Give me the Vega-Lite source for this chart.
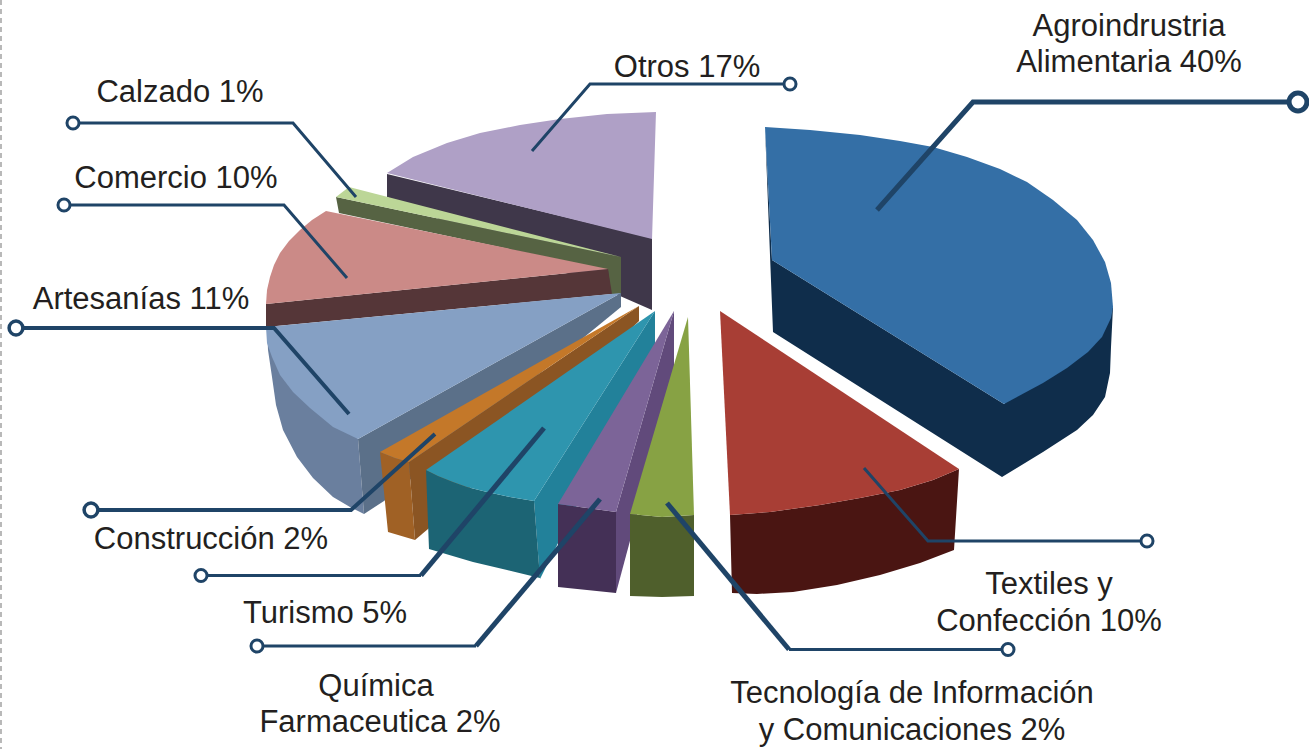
{"$schema":"https://vega.github.io/schema/vega-lite/v6.json","width":1309,"height":749,"padding":0,"autosize":{"type":"none"},"background":"white","config":{"view":{"stroke":null}},
"datasets":{
"faces":[
{"f":"Otros lado","v":1,"x":387,"y":174},{"f":"Otros lado","v":2,"x":652,"y":238},{"f":"Otros lado","v":3,"x":652,"y":310},{"f":"Otros lado","v":4,"x":620,"y":296},{"f":"Otros lado","v":5,"x":387,"y":197},
{"f":"Otros cara","v":1,"x":387,"y":173},{"f":"Otros cara","v":2,"x":413,"y":157},{"f":"Otros cara","v":3,"x":447,"y":143},{"f":"Otros cara","v":4,"x":480,"y":133},{"f":"Otros cara","v":5,"x":520,"y":125},{"f":"Otros cara","v":6,"x":560,"y":119},{"f":"Otros cara","v":7,"x":607,"y":114},{"f":"Otros cara","v":8,"x":656,"y":112},{"f":"Otros cara","v":9,"x":652,"y":239},
{"f":"Calzado lado","v":1,"x":336,"y":197},{"f":"Calzado lado","v":2,"x":621,"y":257},{"f":"Calzado lado","v":3,"x":621,"y":294},{"f":"Calzado lado","v":4,"x":611,"y":294},{"f":"Calzado lado","v":5,"x":608,"y":270},{"f":"Calzado lado","v":6,"x":339,"y":213},
{"f":"Calzado cara","v":1,"x":336,"y":197},{"f":"Calzado cara","v":2,"x":349,"y":187},{"f":"Calzado cara","v":3,"x":621,"y":257},
{"f":"Comercio lado","v":1,"x":266,"y":304},{"f":"Comercio lado","v":2,"x":608,"y":269},{"f":"Comercio lado","v":3,"x":612,"y":294},{"f":"Comercio lado","v":4,"x":266,"y":327},
{"f":"Comercio cara","v":1,"x":326,"y":211},{"f":"Comercio cara","v":2,"x":608,"y":269},{"f":"Comercio cara","v":3,"x":266,"y":304},{"f":"Comercio cara","v":4,"x":267,"y":290},{"f":"Comercio cara","v":5,"x":270,"y":277},{"f":"Comercio cara","v":6,"x":274,"y":265},{"f":"Comercio cara","v":7,"x":280,"y":253},{"f":"Comercio cara","v":8,"x":289,"y":241},{"f":"Comercio cara","v":9,"x":300,"y":230},{"f":"Comercio cara","v":10,"x":312,"y":220},
{"f":"Artesanías frente","v":1,"x":267,"y":327},{"f":"Artesanías frente","v":2,"x":268,"y":350},{"f":"Artesanías frente","v":3,"x":272,"y":377},{"f":"Artesanías frente","v":4,"x":276,"y":405},{"f":"Artesanías frente","v":5,"x":283,"y":430},{"f":"Artesanías frente","v":6,"x":297,"y":457},{"f":"Artesanías frente","v":7,"x":313,"y":478},{"f":"Artesanías frente","v":8,"x":333,"y":497},{"f":"Artesanías frente","v":9,"x":350,"y":507},{"f":"Artesanías frente","v":10,"x":364,"y":514},{"f":"Artesanías frente","v":11,"x":358,"y":439},
{"f":"Artesanías lado","v":1,"x":358,"y":439},{"f":"Artesanías lado","v":2,"x":621,"y":293},{"f":"Artesanías lado","v":3,"x":621,"y":307},{"f":"Artesanías lado","v":4,"x":384,"y":501},{"f":"Artesanías lado","v":5,"x":364,"y":514},
{"f":"Artesanías cara","v":1,"x":266,"y":327},{"f":"Artesanías cara","v":2,"x":621,"y":293},{"f":"Artesanías cara","v":3,"x":358,"y":439},{"f":"Artesanías cara","v":4,"x":333,"y":427},{"f":"Artesanías cara","v":5,"x":310,"y":408},{"f":"Artesanías cara","v":6,"x":293,"y":392},{"f":"Artesanías cara","v":7,"x":280,"y":375},{"f":"Artesanías cara","v":8,"x":272,"y":357},{"f":"Artesanías cara","v":9,"x":267,"y":343},
{"f":"Construcción frente","v":1,"x":380,"y":452},{"f":"Construcción frente","v":2,"x":388,"y":532},{"f":"Construcción frente","v":3,"x":415,"y":540},{"f":"Construcción frente","v":4,"x":409,"y":462},{"f":"Construcción frente","v":5,"x":395,"y":458},
{"f":"Construcción lado","v":1,"x":409,"y":462},{"f":"Construcción lado","v":2,"x":639,"y":306},{"f":"Construcción lado","v":3,"x":639,"y":321},{"f":"Construcción lado","v":4,"x":428,"y":529},{"f":"Construcción lado","v":5,"x":415,"y":540},
{"f":"Construcción cara","v":1,"x":380,"y":452},{"f":"Construcción cara","v":2,"x":639,"y":306},{"f":"Construcción cara","v":3,"x":409,"y":462},{"f":"Construcción cara","v":4,"x":395,"y":458},
{"f":"Turismo lado","v":1,"x":534,"y":501},{"f":"Turismo lado","v":2,"x":655,"y":311},{"f":"Turismo lado","v":3,"x":655,"y":350},{"f":"Turismo lado","v":4,"x":540,"y":579},
{"f":"Turismo frente","v":1,"x":426,"y":470},{"f":"Turismo frente","v":2,"x":438,"y":476},{"f":"Turismo frente","v":3,"x":453,"y":482},{"f":"Turismo frente","v":4,"x":467,"y":487},{"f":"Turismo frente","v":5,"x":487,"y":492},{"f":"Turismo frente","v":6,"x":510,"y":497},{"f":"Turismo frente","v":7,"x":534,"y":501},{"f":"Turismo frente","v":8,"x":540,"y":578},{"f":"Turismo frente","v":9,"x":507,"y":570},{"f":"Turismo frente","v":10,"x":473,"y":562},{"f":"Turismo frente","v":11,"x":429,"y":549},
{"f":"Turismo cara","v":1,"x":426,"y":470},{"f":"Turismo cara","v":2,"x":655,"y":311},{"f":"Turismo cara","v":3,"x":534,"y":501},{"f":"Turismo cara","v":4,"x":510,"y":497},{"f":"Turismo cara","v":5,"x":487,"y":492},{"f":"Turismo cara","v":6,"x":467,"y":487},{"f":"Turismo cara","v":7,"x":453,"y":482},{"f":"Turismo cara","v":8,"x":438,"y":476},
{"f":"Química lado","v":1,"x":616,"y":512},{"f":"Química lado","v":2,"x":674,"y":311},{"f":"Química lado","v":3,"x":674,"y":377},{"f":"Química lado","v":4,"x":616,"y":593},
{"f":"Química frente","v":1,"x":558,"y":504},{"f":"Química frente","v":2,"x":587,"y":508},{"f":"Química frente","v":3,"x":616,"y":512},{"f":"Química frente","v":4,"x":616,"y":593},{"f":"Química frente","v":5,"x":558,"y":587},
{"f":"Química cara","v":1,"x":558,"y":504},{"f":"Química cara","v":2,"x":674,"y":311},{"f":"Química cara","v":3,"x":616,"y":512},{"f":"Química cara","v":4,"x":587,"y":508},
{"f":"Tecnología frente","v":1,"x":630,"y":514},{"f":"Tecnología frente","v":2,"x":662,"y":517},{"f":"Tecnología frente","v":3,"x":694,"y":515},{"f":"Tecnología frente","v":4,"x":694,"y":596},{"f":"Tecnología frente","v":5,"x":662,"y":597},{"f":"Tecnología frente","v":6,"x":630,"y":596},
{"f":"Tecnología cara","v":1,"x":688,"y":317},{"f":"Tecnología cara","v":2,"x":694,"y":515},{"f":"Tecnología cara","v":3,"x":662,"y":517},{"f":"Tecnología cara","v":4,"x":630,"y":514},
{"f":"Textiles frente","v":1,"x":730,"y":515},{"f":"Textiles frente","v":2,"x":770,"y":512},{"f":"Textiles frente","v":3,"x":820,"y":505},{"f":"Textiles frente","v":4,"x":860,"y":498},{"f":"Textiles frente","v":5,"x":900,"y":490},{"f":"Textiles frente","v":6,"x":933,"y":480},{"f":"Textiles frente","v":7,"x":959,"y":469},{"f":"Textiles frente","v":8,"x":954,"y":550},{"f":"Textiles frente","v":9,"x":920,"y":563},{"f":"Textiles frente","v":10,"x":880,"y":575},{"f":"Textiles frente","v":11,"x":837,"y":585},{"f":"Textiles frente","v":12,"x":793,"y":592},{"f":"Textiles frente","v":13,"x":757,"y":594},{"f":"Textiles frente","v":14,"x":732,"y":593},
{"f":"Textiles cara","v":1,"x":720,"y":311},{"f":"Textiles cara","v":2,"x":959,"y":469},{"f":"Textiles cara","v":3,"x":933,"y":480},{"f":"Textiles cara","v":4,"x":900,"y":490},{"f":"Textiles cara","v":5,"x":860,"y":498},{"f":"Textiles cara","v":6,"x":820,"y":505},{"f":"Textiles cara","v":7,"x":770,"y":512},{"f":"Textiles cara","v":8,"x":730,"y":515},
{"f":"Agro lado","v":1,"x":765,"y":127},{"f":"Agro lado","v":2,"x":773,"y":332},{"f":"Agro lado","v":3,"x":1002,"y":477},{"f":"Agro lado","v":4,"x":1043,"y":452},{"f":"Agro lado","v":5,"x":1077,"y":430},{"f":"Agro lado","v":6,"x":1093,"y":415},{"f":"Agro lado","v":7,"x":1105,"y":397},{"f":"Agro lado","v":8,"x":1110,"y":373},{"f":"Agro lado","v":9,"x":1111,"y":347},{"f":"Agro lado","v":10,"x":1113,"y":307},{"f":"Agro lado","v":11,"x":1004,"y":404},{"f":"Agro lado","v":12,"x":772,"y":260},
{"f":"Agro cara","v":1,"x":765,"y":127},{"f":"Agro cara","v":2,"x":810,"y":130},{"f":"Agro cara","v":3,"x":860,"y":135},{"f":"Agro cara","v":4,"x":900,"y":141},{"f":"Agro cara","v":5,"x":933,"y":147},{"f":"Agro cara","v":6,"x":967,"y":157},{"f":"Agro cara","v":7,"x":1000,"y":169},{"f":"Agro cara","v":8,"x":1027,"y":182},{"f":"Agro cara","v":9,"x":1053,"y":200},{"f":"Agro cara","v":10,"x":1077,"y":220},{"f":"Agro cara","v":11,"x":1093,"y":240},{"f":"Agro cara","v":12,"x":1105,"y":262},{"f":"Agro cara","v":13,"x":1111,"y":283},{"f":"Agro cara","v":14,"x":1113,"y":307},{"f":"Agro cara","v":15,"x":1111,"y":318},{"f":"Agro cara","v":16,"x":1102,"y":337},{"f":"Agro cara","v":17,"x":1088,"y":352},{"f":"Agro cara","v":18,"x":1067,"y":368},{"f":"Agro cara","v":19,"x":1043,"y":383},{"f":"Agro cara","v":20,"x":1004,"y":404},{"f":"Agro cara","v":21,"x":772,"y":260}
],
"leaders":[
{"id":"Otros","w":"w3","v":1,"x":790,"y":84},{"id":"Otros","w":"w3","v":2,"x":590,"y":84},{"id":"Otros","w":"w3","v":3,"x":532,"y":151},
{"id":"Agro","w":"w5","v":1,"x":1298,"y":102},{"id":"Agro","w":"w5","v":2,"x":973,"y":102},{"id":"Agro","w":"w5","v":3,"x":877,"y":210},
{"id":"Calzado","w":"w3","v":1,"x":73,"y":123},{"id":"Calzado","w":"w3","v":2,"x":293,"y":123},{"id":"Calzado","w":"w3","v":3,"x":356,"y":197},
{"id":"Comercio","w":"w3","v":1,"x":64,"y":205},{"id":"Comercio","w":"w3","v":2,"x":284,"y":205},{"id":"Comercio","w":"w3","v":3,"x":347,"y":278},
{"id":"Artesanías","w":"w4","v":1,"x":16,"y":328},{"id":"Artesanías","w":"w4","v":2,"x":274,"y":328},{"id":"Artesanías","w":"w4","v":3,"x":349,"y":414},
{"id":"Construcción","w":"w4","v":1,"x":91,"y":510},{"id":"Construcción","w":"w4","v":2,"x":351,"y":510},{"id":"Construcción","w":"w4","v":3,"x":435,"y":434},
{"id":"Turismo h","w":"w3","v":1,"x":201,"y":575.5},{"id":"Turismo h","w":"w3","v":2,"x":421,"y":575.5},
{"id":"Turismo d","w":"w5","v":1,"x":421,"y":575.5},{"id":"Turismo d","w":"w5","v":2,"x":544,"y":428},
{"id":"Química h","w":"w3","v":1,"x":257,"y":646},{"id":"Química h","w":"w3","v":2,"x":476,"y":646},
{"id":"Química d","w":"w5","v":1,"x":476,"y":646},{"id":"Química d","w":"w5","v":2,"x":600,"y":499},
{"id":"Tecnología h","w":"w3","v":1,"x":1008,"y":649.5},{"id":"Tecnología h","w":"w3","v":2,"x":789,"y":649.5},
{"id":"Tecnología d","w":"w5","v":1,"x":789,"y":649.5},{"id":"Tecnología d","w":"w5","v":2,"x":667,"y":503},
{"id":"Textiles","w":"w3","v":1,"x":1147,"y":541},{"id":"Textiles","w":"w3","v":2,"x":928,"y":541},{"id":"Textiles","w":"w3","v":3,"x":864,"y":468}
],
"tips":[
{"x":790,"y":84,"w":"w3"},{"x":1298,"y":102,"w":"w5"},{"x":73,"y":123,"w":"w3"},{"x":64,"y":205,"w":"w3"},{"x":16,"y":328,"w":"w4"},{"x":91,"y":510,"w":"w4"},{"x":201,"y":575.5,"w":"w3"},{"x":257,"y":646,"w":"w3"},{"x":1008,"y":649.5,"w":"w3"},{"x":1147,"y":541,"w":"w3"}
],
"labels":[
{"text":"Agroindrustria","x":1129,"y":27},{"text":"Alimentaria 40%","x":1129,"y":63},{"text":"Otros 17%","x":687,"y":68},{"text":"Calzado 1%","x":180,"y":93},{"text":"Comercio 10%","x":176,"y":179},{"text":"Artesanías 11%","x":141,"y":300},{"text":"Construcción 2%","x":211,"y":540},{"text":"Turismo 5%","x":325,"y":614},{"text":"Química","x":376,"y":687},{"text":"Farmaceutica 2%","x":380,"y":723},{"text":"Tecnología de Información","x":912,"y":694},{"text":"y Comunicaciones 2%","x":912,"y":731},{"text":"Textiles y","x":1049,"y":585},{"text":"Confección 10%","x":1049,"y":622}
]},
"encoding":{
"x":{"field":"x","type":"quantitative","scale":{"domain":[0,1309],"nice":false,"zero":false},"axis":null},
"y":{"field":"y","type":"quantitative","scale":{"domain":[749,0],"nice":false,"zero":false},"axis":null}
},
"layer":[
{"data":{"values":[{"x":1}]},"mark":{"type":"rule","color":"#8a8a8a","strokeDash":[5,4],"strokeWidth":1.2},"encoding":{"y":null}},
{"data":{"name":"faces"},"mark":{"type":"line","filled":true,"interpolate":"linear","strokeWidth":0.5},"encoding":{
"detail":{"field":"f"},"order":{"field":"v","type":"quantitative"},
"color":{"field":"f","type":"nominal","legend":null,"scale":{"domain":["Otros lado","Otros cara","Calzado lado","Calzado cara","Comercio lado","Comercio cara","Artesanías frente","Artesanías lado","Artesanías cara","Construcción frente","Construcción lado","Construcción cara","Turismo lado","Turismo frente","Turismo cara","Química lado","Química frente","Química cara","Tecnología frente","Tecnología cara","Textiles frente","Textiles cara","Agro lado","Agro cara"],"range":["#3F374A","#AFA0C6","#566343","#BCD697","#553638","#CB8A87","#6A7F9E","#5B7089","#85A0C4","#A06125","#8B5523","#C47829","#22819A","#1C6474","#2E95AE","#614A7B","#443056","#7C6498","#4F5F2C","#87A244","#4A1512","#A83E35","#0F2D4B","#346FA6"]}}}},
{"data":{"name":"leaders"},"transform":[{"filter":{"field":"w","equal":"w3"}}],"mark":{"type":"line","color":"#1F4467","strokeJoin":"miter","strokeWidth":3},"encoding":{"detail":{"field":"id"},"order":{"field":"v","type":"quantitative"}}},
{"data":{"name":"leaders"},"transform":[{"filter":{"field":"w","equal":"w4"}}],"mark":{"type":"line","color":"#1F4467","strokeJoin":"miter","strokeWidth":4},"encoding":{"detail":{"field":"id"},"order":{"field":"v","type":"quantitative"}}},
{"data":{"name":"leaders"},"transform":[{"filter":{"field":"w","equal":"w5"}}],"mark":{"type":"line","color":"#1F4467","strokeJoin":"miter","strokeWidth":5},"encoding":{"detail":{"field":"id"},"order":{"field":"v","type":"quantitative"}}},
{"data":{"name":"tips"},"transform":[{"filter":{"field":"w","equal":"w3"}}],"mark":{"type":"point","shape":"circle","fill":"white","fillOpacity":1,"opacity":1,"stroke":"#1F4467","strokeWidth":3,"size":145}},
{"data":{"name":"tips"},"transform":[{"filter":{"field":"w","equal":"w4"}}],"mark":{"type":"point","shape":"circle","fill":"white","fillOpacity":1,"opacity":1,"stroke":"#1F4467","strokeWidth":3.5,"size":190}},
{"data":{"name":"tips"},"transform":[{"filter":{"field":"w","equal":"w5"}}],"mark":{"type":"point","shape":"circle","fill":"white","fillOpacity":1,"opacity":1,"stroke":"#1F4467","strokeWidth":5,"size":320}},
{"data":{"name":"labels"},"mark":{"type":"text","font":"Liberation Sans","fontSize":31,"color":"#231F20","align":"center","baseline":"middle"},"encoding":{"text":{"field":"text"}}}
]}
